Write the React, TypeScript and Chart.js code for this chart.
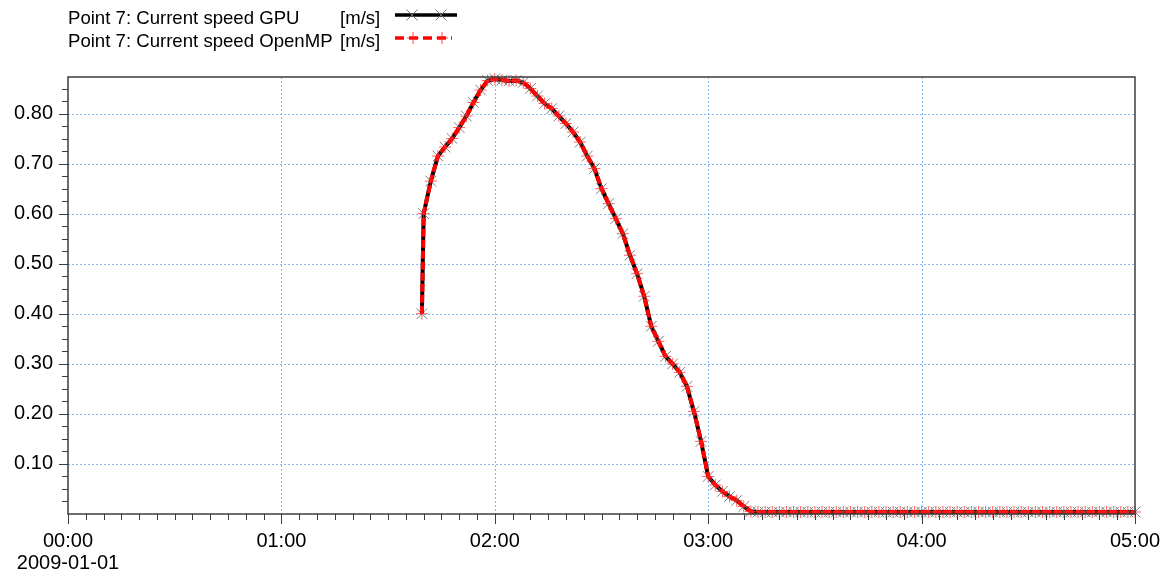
import React, { useEffect, useRef } from "react";
import { Chart, registerables } from "chart.js";

Chart.register(...registerables);

const FONT = '"Liberation Sans", Arial, Helvetica, sans-serif';

// Time of each sample, minutes after 2009-01-01 00:00
const timeMinutes: number[] = [
  99.5,
  100, 102, 104, 106, 108, 110, 112, 114, 116, 118,
  120, 122, 124, 126, 128, 130, 132, 134, 136, 138,
  140, 142, 144, 146, 148, 150, 152, 154, 156, 158,
  160, 162, 164, 166, 168, 170, 172, 174, 176, 178,
  180, 182, 184, 186, 188, 190, 192, 194, 196, 198,
  200, 202, 204, 206, 208, 210, 212, 214, 216, 218,
  220, 222, 224, 226, 228, 230, 232, 234, 236, 238,
  240, 242, 244, 246, 248, 250, 252, 254, 256, 258,
  260, 262, 264, 266, 268, 270, 272, 274, 276, 278,
  280, 282, 284, 286, 288, 290, 292, 294, 296, 298,
  300,
];

// Point 7: Current speed GPU [m/s]
const gpuSpeed: number[] = [
  0.40,
  0.60, 0.665, 0.715, 0.733, 0.75, 0.772, 0.795, 0.822, 0.847, 0.866,
  0.869, 0.867, 0.865, 0.866, 0.862, 0.85, 0.835, 0.82, 0.81, 0.795,
  0.78, 0.763, 0.743, 0.715, 0.69, 0.65, 0.62, 0.59, 0.56, 0.517,
  0.48, 0.435, 0.375, 0.345, 0.315, 0.30, 0.283, 0.255, 0.205, 0.145,
  0.075, 0.058, 0.045, 0.035, 0.027, 0.015, 0.005, 0.004, 0.004, 0.004,
  0.004, 0.004, 0.004, 0.004, 0.004, 0.004, 0.004, 0.004, 0.004, 0.004,
  0.004, 0.004, 0.004, 0.004, 0.004, 0.004, 0.004, 0.004, 0.004, 0.004,
  0.004, 0.004, 0.004, 0.004, 0.004, 0.004, 0.004, 0.004, 0.004, 0.004,
  0.004, 0.004, 0.004, 0.004, 0.004, 0.004, 0.004, 0.004, 0.004, 0.004,
  0.004, 0.004, 0.004, 0.004, 0.004, 0.004, 0.004, 0.004, 0.004, 0.004,
  0.004,
];

// Point 7: Current speed OpenMP [m/s]
const openmpSpeed: number[] = [
  0.40,
  0.60, 0.665, 0.715, 0.733, 0.75, 0.772, 0.795, 0.822, 0.847, 0.866,
  0.869, 0.867, 0.865, 0.866, 0.862, 0.85, 0.835, 0.82, 0.81, 0.795,
  0.78, 0.763, 0.743, 0.715, 0.69, 0.65, 0.62, 0.59, 0.56, 0.517,
  0.48, 0.435, 0.375, 0.345, 0.315, 0.30, 0.283, 0.255, 0.205, 0.145,
  0.075, 0.058, 0.045, 0.035, 0.027, 0.015, 0.005, 0.004, 0.004, 0.004,
  0.004, 0.004, 0.004, 0.004, 0.004, 0.004, 0.004, 0.004, 0.004, 0.004,
  0.004, 0.004, 0.004, 0.004, 0.004, 0.004, 0.004, 0.004, 0.004, 0.004,
  0.004, 0.004, 0.004, 0.004, 0.004, 0.004, 0.004, 0.004, 0.004, 0.004,
  0.004, 0.004, 0.004, 0.004, 0.004, 0.004, 0.004, 0.004, 0.004, 0.004,
  0.004, 0.004, 0.004, 0.004, 0.004, 0.004, 0.004, 0.004, 0.004, 0.004,
  0.004,
];

const seriesNames = ["Point 7: Current speed GPU", "Point 7: Current speed OpenMP"];
const unitLabel = "[m/s]";
const dateLabel = "2009-01-01";

const X_MIN = 0;
const X_MAX = 300;
const X_MAJOR_STEP = 60;
const X_MINOR_STEP = 5;
const Y_MIN = 0;
const Y_MAX = 0.873;
const Y_MAJOR_STEP = 0.1;
const Y_MINOR_STEP = 0.025;

const GRID_COLOR = "rgba(110,175,245,0.85)";
const AXIS_COLOR = "#3c3c3c";

const pad2 = (n: number) => String(n).padStart(2, "0");
const fmtTime = (v: number) => `${pad2(Math.floor(v / 60))}:${pad2(Math.round(v % 60))}`;

function drawCrossRot(ctx: CanvasRenderingContext2D, x: number, y: number, r: number) {
  ctx.beginPath();
  ctx.moveTo(x - r, y - r);
  ctx.lineTo(x + r, y + r);
  ctx.moveTo(x - r, y + r);
  ctx.lineTo(x + r, y - r);
  ctx.stroke();
}
function drawCross(ctx: CanvasRenderingContext2D, x: number, y: number, r: number) {
  ctx.beginPath();
  ctx.moveTo(x - r, y);
  ctx.lineTo(x + r, y);
  ctx.moveTo(x, y - r);
  ctx.lineTo(x, y + r);
  ctx.stroke();
}

const framePlugin = {
  id: "framePlugin",
  beforeDatasetsDraw(chart: any) {
    const { ctx, chartArea: a, scales } = chart;
    const xs = scales.x;
    const ys = scales.y;
    ctx.save();
    ctx.strokeStyle = GRID_COLOR;
    ctx.lineWidth = 1;
    ctx.setLineDash([2, 2]);
    for (const t of ys.ticks) {
      if (t.value <= Y_MIN) continue;
      const py = Math.round(ys.getPixelForValue(t.value)) + 0.5;
      ctx.beginPath();
      ctx.moveTo(a.left, py);
      ctx.lineTo(a.right, py);
      ctx.stroke();
    }
    for (const t of xs.ticks) {
      if (t.value <= X_MIN || t.value >= X_MAX) continue;
      const px = Math.round(xs.getPixelForValue(t.value)) + 0.5;
      ctx.beginPath();
      ctx.moveTo(px, a.top);
      ctx.lineTo(px, a.bottom);
      ctx.stroke();
    }
    ctx.restore();
  },
  afterDatasetsDraw(chart: any) {
    const { ctx, chartArea: a, scales } = chart;
    const xs = scales.x;
    const ys = scales.y;
    ctx.save();
    ctx.strokeStyle = AXIS_COLOR;
    ctx.lineWidth = 1.5;
    ctx.setLineDash([]);
    ctx.strokeRect(a.left, a.top, a.right - a.left, a.bottom - a.top);
    ctx.lineWidth = 1;
    // y ticks
    const nY = Math.round((Y_MAX - Y_MIN) / Y_MINOR_STEP);
    for (let i = 1; i <= nY; i++) {
      const v = Y_MIN + i * Y_MINOR_STEP;
      if (v > Y_MAX) break;
      const major = i % 4 === 0;
      const py = Math.round(ys.getPixelForValue(v)) + 0.5;
      ctx.beginPath();
      ctx.moveTo(a.left, py);
      ctx.lineTo(a.left - (major ? 9 : 6), py);
      ctx.stroke();
    }
    // x ticks
    const nX = Math.round((X_MAX - X_MIN) / X_MINOR_STEP);
    for (let i = 0; i <= nX; i++) {
      const v = X_MIN + i * X_MINOR_STEP;
      const major = i % (X_MAJOR_STEP / X_MINOR_STEP) === 0;
      const px = Math.round(xs.getPixelForValue(v)) + 0.5;
      ctx.beginPath();
      ctx.moveTo(px, a.bottom);
      ctx.lineTo(px, a.bottom + (major ? 10 : 6));
      ctx.stroke();
    }
    ctx.restore();
  },
  afterDraw(chart: any) {
    const { ctx } = chart;
    ctx.save();
    ctx.font = `18.6px ${FONT}`;
    ctx.fillStyle = "#000";
    ctx.textBaseline = "alphabetic";
    ctx.textAlign = "left";
    ctx.fillText(seriesNames[0], 68, 24);
    ctx.fillText(unitLabel, 340, 24);
    ctx.fillText(seriesNames[1], 68, 47);
    ctx.fillText(unitLabel, 340, 47);

    // sample 1: black line with grey x markers
    ctx.strokeStyle = "#000";
    ctx.lineWidth = 3.5;
    ctx.beginPath();
    ctx.moveTo(395, 15);
    ctx.lineTo(457, 15);
    ctx.stroke();
    ctx.strokeStyle = "rgba(110,110,110,0.9)";
    ctx.lineWidth = 1;
    drawCrossRot(ctx, 412, 15, 5.5);
    drawCrossRot(ctx, 441, 15, 5.5);

    // sample 2: red dashed with + markers
    ctx.strokeStyle = "#ff0000";
    ctx.lineWidth = 3.5;
    ctx.setLineDash([9, 5]);
    ctx.beginPath();
    ctx.moveTo(395, 38);
    ctx.lineTo(452, 38);
    ctx.stroke();
    ctx.setLineDash([]);
    ctx.strokeStyle = "rgba(255,30,30,0.8)";
    ctx.lineWidth = 1;
    drawCross(ctx, 413, 38, 6);
    drawCross(ctx, 442, 38, 6);
    ctx.restore();
  },
};

export default function App() {
  const canvasRef = useRef<HTMLCanvasElement | null>(null);

  useEffect(() => {
    const canvas = canvasRef.current;
    if (!canvas) return;
    const chart = new Chart(canvas, {
      type: "line",
      data: {
        datasets: [
          {
            label: seriesNames[0],
            data: timeMinutes.map((t, i) => ({ x: t, y: gpuSpeed[i] })),
            borderColor: "#000000",
            borderWidth: 4,
            tension: 0,
            pointStyle: "crossRot",
            pointRadius: 7.5,
            pointBorderWidth: 1,
            pointBorderColor: "rgba(105,105,105,0.85)",
            pointBackgroundColor: "transparent",
            clip: false,
            order: 2,
          },
          {
            label: seriesNames[1],
            data: timeMinutes.map((t, i) => ({ x: t, y: openmpSpeed[i] })),
            borderColor: "#ff0000",
            borderWidth: 4,
            borderDash: [8, 3],
            tension: 0,
            pointStyle: "cross",
            pointRadius: 6,
            pointBorderWidth: 1,
            pointBorderColor: "rgba(255,40,40,0.75)",
            pointBackgroundColor: "transparent",
            clip: false,
            order: 1,
          },
        ],
      },
      options: {
        responsive: false,
        animation: false,
        devicePixelRatio: 1,
        layout: { padding: { top: 77, right: 35, left: 0, bottom: 0 } },
        plugins: {
          legend: { display: false },
          tooltip: { enabled: false },
          title: { display: false },
        },
        scales: {
          x: {
            type: "linear",
            min: X_MIN,
            max: X_MAX,
            afterFit: (s: any) => {
              s.height = 65;
              s.paddingLeft = 0;
              s.paddingRight = 0;
            },
            grid: { display: false, drawTicks: false },
            border: { display: false },
            ticks: {
              stepSize: X_MAJOR_STEP,
              autoSkip: false,
              maxRotation: 0,
              padding: 17,
              color: "#000",
              font: { family: FONT, size: 20, lineHeight: 1.075 },
              callback: (v: any) => {
                const n = Number(v);
                return n === 0 ? [fmtTime(n), dateLabel] : fmtTime(n);
              },
            },
          },
          y: {
            type: "linear",
            min: Y_MIN,
            max: Y_MAX,
            afterFit: (s: any) => {
              s.width = 68;
              s.paddingTop = 0;
              s.paddingBottom = 0;
            },
            grid: { display: false, drawTicks: false },
            border: { display: false },
            ticks: {
              stepSize: Y_MAJOR_STEP,
              includeBounds: false,
              padding: 15,
              color: "#000",
              font: { family: FONT, size: 20 },
              callback: (v: any) => {
                const n = Number(v);
                return n <= 0 ? "" : n.toFixed(2);
              },
            },
          },
        },
      },
      plugins: [framePlugin],
    } as any);
    return () => chart.destroy();
  }, []);

  return (
    <div style={{ position: "absolute", left: 0, top: 0, width: 1170, height: 579, background: "#fff" }}>
      <canvas ref={canvasRef} width={1170} height={579} style={{ display: "block" }} />
    </div>
  );
}
